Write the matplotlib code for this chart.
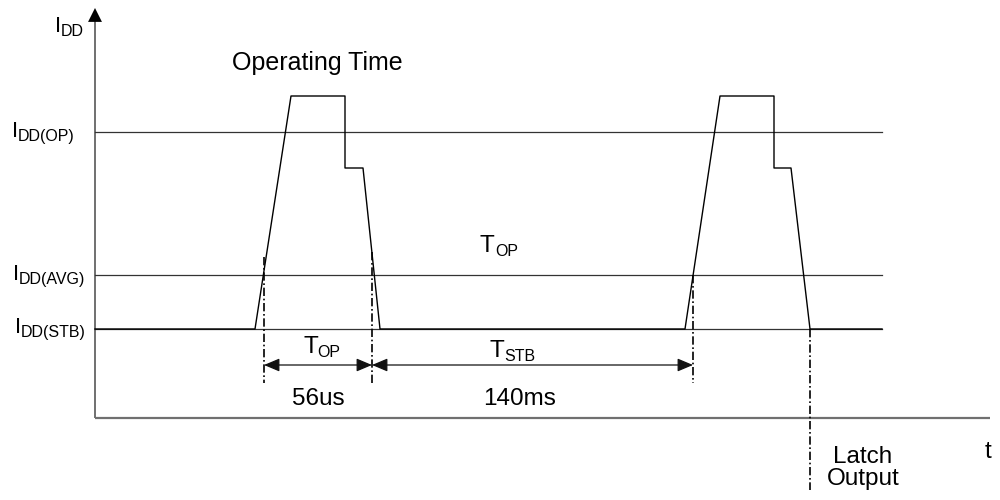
import matplotlib
matplotlib.use("Agg")
import matplotlib.pyplot as plt

plt.rcParams["font.family"] = ["Liberation Sans", "DejaVu Sans"]

# ── Data (schematic units: x = time from origin, y = current above axis) ─────
level_names = ["DD(OP)", "DD(AVG)", "DD(STB)"]
level_values = [286, 143, 89]
level_end = 787

wave_t = [0, 160, 196, 250, 250, 268, 285, 590, 625, 679, 679, 696, 715, 787]
wave_i = [89, 89, 322, 322, 250, 250, 89, 89, 322, 322, 250, 250, 89, 89]

mark_t = [169, 277, 598, 715]          # dash-dot markers
mark_top = [161, 166, 143, 89]
mark_bottom = [35, 35, 35, -72]

span_starts = [169, 277]
span_ends = [277, 598]
span_y = 53
span_values = ["56us", "140ms"]
span_label_x = [223, 425]

AXIS_COL = "#707070"
LEVEL_COL = "#333333"
FS = 17.5


def sub_label(ax, x, y, main, sub, size=FS, sub_size=11.5, **kw):
    t = ax.text(x, y, main, fontsize=size, va="baseline", **kw)
    ax.annotate(sub, xy=(1, 0), xycoords=t, xytext=(0, 0.8),
                textcoords="offset points", fontsize=sub_size, va="baseline")
    return t


fig = plt.figure(figsize=(10, 5), dpi=100, facecolor="white")
ax = fig.add_axes([0, 0, 1, 1])
ax.set_xlim(-95, 905)
ax.set_ylim(-82, 418)
ax.axis("off")

# axes with black arrow heads
ax.plot([0, 0], [0, 398], color=AXIS_COL, lw=1.4, solid_capstyle="butt")
ax.plot([0, 895], [0, 0], color=AXIS_COL, lw=1.6, solid_capstyle="butt")
head = dict(arrowstyle="-|>,head_length=1.0,head_width=0.5", mutation_scale=10,
            color="black", lw=0, shrinkA=0, shrinkB=0)
ax.annotate("", xy=(0, 410), xytext=(0, 395), arrowprops=head)
ax.annotate("", xy=(907, 0), xytext=(890, 0), arrowprops=head)

# reference current levels
for name, val in zip(level_names, level_values):
    ax.plot([0, level_end], [val, val], color=LEVEL_COL, lw=0.9)

# supply current waveform
ax.plot(wave_t, wave_i, color="black", lw=1.0)

# dash-dot markers
for t, y0, y1 in zip(mark_t, mark_top, mark_bottom):
    ax.plot([t, t], [y0, y1], color="black", lw=1.2, dashes=(5, 1.6, 1, 1.6))

# dimension arrows
dim = dict(arrowstyle="<|-|>,head_length=0.95,head_width=0.4", mutation_scale=10,
           color="#111111", lw=0.9, shrinkA=0, shrinkB=0)
for a, b, val, lx in zip(span_starts, span_ends, span_values, span_label_x):
    ax.annotate("", xy=(b, span_y), xytext=(a, span_y), arrowprops=dim)
    ax.text(lx, 13, val, fontsize=FS, ha="center", va="baseline")

sub_label(ax, 208, 65, "T", "OP")
sub_label(ax, 395, 61, "T", "STB")
sub_label(ax, 385, 166, "T", "OP")

# axis / level labels
sub_label(ax, -40, 386, "I", "DD", size=16)
sub_label(ax, -83, 281, "I", "DD(OP)", size=16)
sub_label(ax, -82, 138, "I", "DD(AVG)", size=16)
sub_label(ax, -80, 85, "I", "DD(STB)", size=16)

ax.text(137, 348, "Operating Time", fontsize=18, va="baseline")
ax.text(768, -45, "Latch", fontsize=FS, ha="center", va="baseline")
ax.text(768, -67, "Output", fontsize=FS, ha="center", va="baseline")
ax.text(890, -40, "t", fontsize=FS, va="baseline")

fig.savefig("out.png", dpi=100, facecolor="white")
